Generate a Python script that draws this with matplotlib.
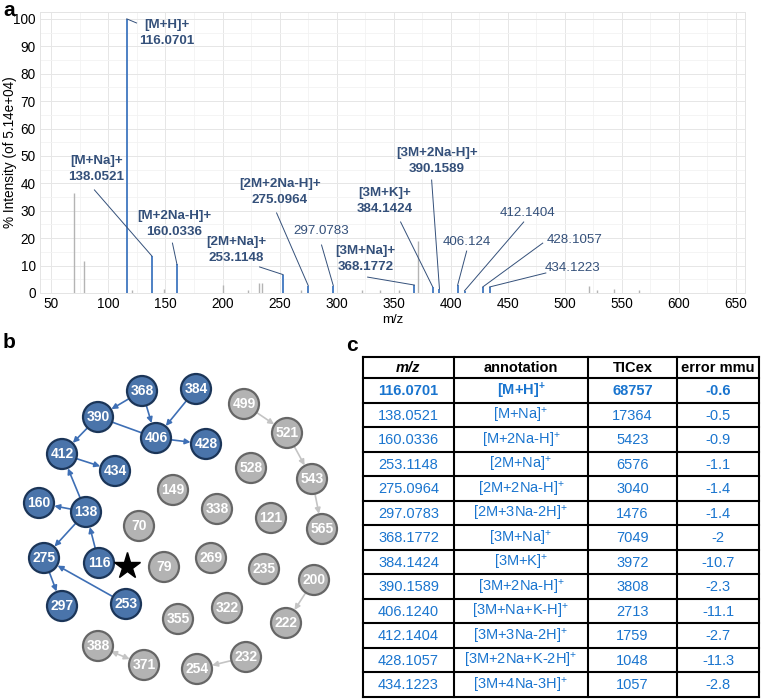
import matplotlib
matplotlib.use("Agg")
import matplotlib.pyplot as plt
from matplotlib.patches import Circle, FancyArrowPatch
from matplotlib.ticker import MultipleLocator

plt.rcParams['font.family'] = ['Liberation Sans', 'DejaVu Sans']
plt.rcParams['mathtext.fontset'] = 'custom'
plt.rcParams['mathtext.rm'] = 'Liberation Sans'
plt.rcParams['mathtext.bf'] = 'Liberation Sans:bold'
plt.rcParams['mathtext.it'] = 'Liberation Sans:italic'

# ---------------- data: spectrum ----------------
gray_mz = [70, 79, 121, 149, 200, 222, 232, 235, 269, 322, 338, 355, 371, 521, 528, 543, 565]
gray_int = [36.5, 11.5, 1, 1.5, 3, 1.2, 3.5, 3.5, 1, 1, 1, 1, 19, 2.5, 1, 1.5, 1]
blue_mz = [116.0701, 138.0521, 160.0336, 253.1148, 275.0964, 297.0783, 368.1772,
           384.1424, 390.1589, 406.124, 412.1404, 428.1057, 434.1223]
blue_int = [100, 13.5, 10.5, 6.7, 2.7, 2.7, 2.9, 2.3, 1.5, 2.9, 0.8, 2.2, 2.2]
peak_ions = ['[M+H]+', '[M+Na]+', '[M+2Na-H]+', '[2M+Na]+', '[2M+2Na-H]+', None,
             '[3M+Na]+', '[3M+K]+', '[3M+2Na-H]+', None, None, None, None]
peak_texts = ['116.0701', '138.0521', '160.0336', '253.1148', '275.0964', '297.0783',
              '368.1772', '384.1424', '390.1589', '406.124', '412.1404', '428.1057', '434.1223']

# ---------------- data: network ----------------
blue_nodes = ['368', '384', '390', '406', '428', '412', '434', '160', '138', '275', '116', '297', '253']
gray_nodes = ['499', '521', '528', '543', '149', '338', '121', '565', '70', '79', '269', '235',
              '200', '355', '322', '222', '388', '371', '232', '254']
blue_edges = [('368', '390'), ('368', '406'), ('384', '406'), ('406', '428'), ('390', '412'),
              ('412', '434'), ('138', '412'), ('138', '160'), ('138', '275'), ('116', '138'),
              ('253', '275'), ('275', '297')]
blue_plain_edges = [('390', '406')]
gray_edges = [('499', '521'), ('521', '543'), ('543', '565'), ('200', '222'), ('232', '254')]
gray_bi_edges = [('388', '371')]
seed_node = '116'

# ---------------- data: table ----------------
col_headers = ['m/z', 'annotation', 'TICex', 'error mmu']
tab_mz = ['116.0701', '138.0521', '160.0336', '253.1148', '275.0964', '297.0783', '368.1772',
          '384.1424', '390.1589', '406.1240', '412.1404', '428.1057', '434.1223']
tab_ann = ['[M+H]', '[M+Na]', '[M+2Na-H]', '[2M+Na]', '[2M+2Na-H]', '[2M+3Na-2H]', '[3M+Na]',
           '[3M+K]', '[3M+2Na-H]', '[3M+Na+K-H]', '[3M+3Na-2H]', '[3M+2Na+K-2H]', '[3M+4Na-3H]']
tab_tic = ['68757', '17364', '5423', '6576', '3040', '1476', '7049', '3972', '3808', '2713',
           '1759', '1048', '1057']
tab_err = ['-0.6', '-0.5', '-0.9', '-1.1', '-1.4', '-1.4', '-2', '-10.7', '-2.3', '-11.1',
           '-2.7', '-11.3', '-2.8']

# ---------------- layout (positions only) ----------------
W, H = 761, 699
# label text centre (mz, int) and leader-line start (mz, int) for each blue peak
label_pos = [(150.9, 95.0), (89.5, 45.4), (157.9, 25.2), (212.3, 15.7), (250.0, 36.7),
             (286.8, 22.6), (325.4, 12.4), (342.1, 33.6), (387.7, 48.0), (414.0, 18.6),
             (467.5, 29.2), (508.8, 19.3), (507.0, 9.1)]
line_start = [(124.6, 98.5), (87.7, 37.6), (156.1, 18.2), (232.5, 9.5), (247.4, 29.2),
              (286.8, 17.5), (327.2, 5.8), (356.1, 25.9), (383.3, 41.2), (414.0, 15.3),
              (464.0, 25.9), (480.7, 18.2), (483.4, 7.3)]
node_xy = {'368': (142, 391), '384': (196, 389), '390': (98, 417), '406': (156, 438),
           '428': (206, 444), '412': (62, 454), '434': (115, 471), '160': (39, 503),
           '138': (86, 512), '275': (44, 558), '116': (99, 563), '297': (62, 606),
           '253': (126, 604), '499': (244, 404), '521': (287, 433), '528': (251, 468),
           '543': (312, 479), '149': (173, 490), '338': (217, 509), '121': (271, 518),
           '565': (322, 529), '70': (139, 526), '79': (164, 567), '269': (211, 558),
           '235': (264, 569), '200': (314, 580), '355': (178, 619), '322': (227, 608),
           '222': (286, 623), '388': (98, 646), '371': (144, 665), '232': (246, 657),
           '254': (197, 669)}
node_r = 15
col_w = [91, 134, 89, 82]
tab_x0, tab_y0 = 363, 357
head_h, row_h = 21, 24.5

label_col = '#34507a'
blue_line = '#3f76bf'
gray_line = '#b4b4b4'
node_blue = '#4a74aa'
node_blue_edge = '#1b3558'
node_gray = '#b3b3b3'
node_gray_edge = '#666666'
tab_blue = '#1a75cf'

fig = plt.figure(figsize=(W / 100, H / 100), dpi=100)

# ---------------- panel a ----------------
ax = fig.add_axes([40 / W, 1 - 293 / H, (745 - 40) / W, (293 - 12) / H])
ax.set_xlim(40, 658)
ax.set_ylim(0, 102.5)
ax.vlines(gray_mz, 0, gray_int, color=gray_line, lw=1.0)
ax.vlines(blue_mz, 0, blue_int, color=blue_line, lw=1.3)
for i, mz in enumerate(blue_mz):
    tx, ty = label_pos[i]
    lx, ly = line_start[i]
    ax.plot([lx, mz], [ly, blue_int[i]], color=label_col, lw=0.7)
    if peak_ions[i]:
        ax.text(tx, ty, peak_ions[i] + '\n' + peak_texts[i], ha='center', va='center',
                fontsize=9.6, fontweight='bold', color=label_col, linespacing=1.45)
    else:
        ax.text(tx, ty, peak_texts[i], ha='center', va='center', fontsize=9.6,
                color=label_col)
ax.xaxis.set_major_locator(MultipleLocator(50))
ax.xaxis.set_minor_locator(MultipleLocator(25))
ax.yaxis.set_major_locator(MultipleLocator(10))
ax.yaxis.set_minor_locator(MultipleLocator(5))
ax.grid(which='major', color='#e6e6e6', lw=0.7)
ax.grid(which='minor', color='#f2f2f2', lw=0.6)
ax.set_axisbelow(True)
for s in ax.spines.values():
    s.set_color('#e4e4e4')
    s.set_linewidth(0.7)
ax.tick_params(which='both', length=0, labelsize=9.8, pad=3)
ax.set_xlabel('m/z', fontsize=9.5)
ax.set_ylabel('% Intensity (of 5.14e+04)', fontsize=9.8)
ax.xaxis.set_label_coords(0.5, -0.075)
ax.yaxis.set_label_coords(-23 / 705, 0.5)

# ---------------- overlay for panels b, c ----------------
ov = fig.add_axes([0, 0, 1, 1])
ov.set_xlim(0, W)
ov.set_ylim(H, 0)
ov.axis('off')
ov.patch.set_alpha(0)

fig.text(3 / W, 1 - 1 / H, 'a', fontsize=15, fontweight='bold', va='top', ha='left')
fig.text(3 / W, 1 - 333 / H, 'b', fontsize=15, fontweight='bold', va='top', ha='left')
fig.text(346 / W, 1 - 336 / H, 'c', fontsize=15, fontweight='bold', va='top', ha='left')

circles = {}
for n in blue_nodes:
    c = Circle(node_xy[n], node_r, facecolor=node_blue, edgecolor=node_blue_edge, lw=1.6, zorder=3)
    ov.add_patch(c)
    circles[n] = c
    ov.text(*node_xy[n], n, ha='center', va='center', color='white', fontsize=10,
            fontweight='bold', zorder=4)
for n in gray_nodes:
    c = Circle(node_xy[n], node_r, facecolor=node_gray, edgecolor=node_gray_edge, lw=1.6, zorder=3)
    ov.add_patch(c)
    circles[n] = c
    ov.text(*node_xy[n], n, ha='center', va='center', color='white', fontsize=10,
            fontweight='bold', zorder=4)


def edge(a, b, color, style):
    p = FancyArrowPatch(node_xy[a], node_xy[b], patchA=circles[a], patchB=circles[b],
                        arrowstyle=style, mutation_scale=8, color=color, lw=1.2, zorder=2,
                        shrinkA=0, shrinkB=1)
    ov.add_patch(p)


for a, b in blue_edges:
    edge(a, b, '#3e6fb5', '-|>')
for a, b in blue_plain_edges:
    edge(a, b, '#3e6fb5', '-')
for a, b in gray_edges:
    edge(a, b, '#c4c4c4', '-|>')
for a, b in gray_bi_edges:
    edge(a, b, '#c4c4c4', '<|-|>')

sx, sy = node_xy[seed_node]
ov.plot(sx + 28, sy + 3, marker='*', color='black', markersize=20, zorder=4)

# ---------------- panel c table ----------------
xs = [tab_x0]
for w in col_w:
    xs.append(xs[-1] + w)
ys = [tab_y0, tab_y0 + head_h]
for _ in tab_mz:
    ys.append(ys[-1] + row_h)
for x in xs:
    ov.plot([x, x], [ys[0], ys[-1]], color='black', lw=1.5, solid_capstyle='projecting')
for y in ys:
    ov.plot([xs[0], xs[-1]], [y, y], color='black', lw=1.5, solid_capstyle='projecting')

hy = (ys[0] + ys[1]) / 2
for j, h in enumerate(col_headers):
    cx = (xs[j] + xs[j + 1]) / 2
    ov.text(cx, hy, h, ha='center', va='center', fontsize=10.5, fontweight='bold',
            style='italic' if j == 0 else 'normal', color='black')
for i in range(len(tab_mz)):
    cy = (ys[i + 1] + ys[i + 2]) / 2
    bold = (i == 0)
    fw = 'bold' if bold else 'normal'
    sup = r'$^{\mathbf{+}}$' if bold else r'$^{+}$'
    vals = [tab_mz[i], tab_ann[i] + sup, tab_tic[i], tab_err[i]]
    for j, v in enumerate(vals):
        cx = (xs[j] + xs[j + 1]) / 2
        ov.text(cx, cy + 1, v, ha='center', va='center', fontsize=10.5, fontweight=fw,
                color=tab_blue)

fig.savefig('out.png', dpi=100)
